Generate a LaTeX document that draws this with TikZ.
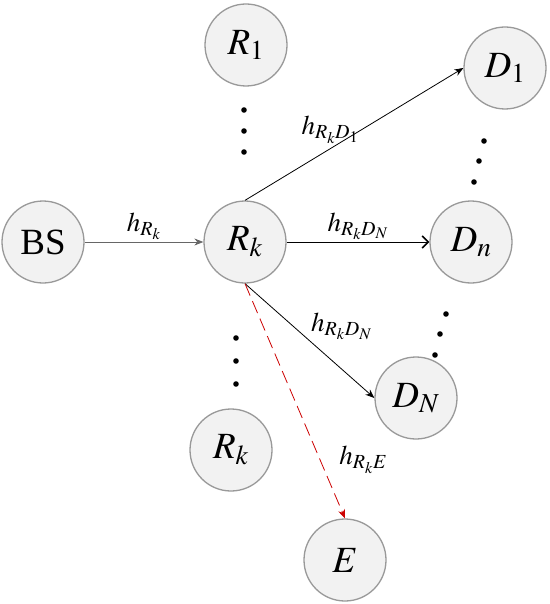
\documentclass[tikz,border=0pt]{standalone}
\usepackage{mathptmx}
\usepackage{fontspec}
\setmainfont{Liberation Serif}
\usetikzlibrary{arrows.meta,positioning}

\begin{document}
\begin{tikzpicture}[x=1pt,y=-1pt,
        station/.style={
            circle, draw = black!40, fill = black!5, line width = 1.3pt,
            minimum size = 82pt, inner sep = 0pt, font = \fontsize{37}{44}\selectfont
        },
        link/.style={
            line width = 0.8pt, -{Stealth[length=9pt,width=7pt]}
        },
        chan/.style={
            font = \fontsize{27}{32}\selectfont, inner sep = 1pt
        },
    ]
    \useasboundingbox (0,0) rectangle (549,604);

    \node (BS) [station] at (43,242) {BS};
    \node (Rk) [station] at (245,242) {$R_k$};
    \node (R1) [station] at (246,45) {$R_1$};
    \node (Rkb) [station] at (231,450) {$R_k$};
    \node (D1) [station] at (505,68) {$D_1$};
    \node (Dn) [station] at (471,242) {$D_n$};
    \node (DN) [station] at (416,398) {$D_N$};
    \node (E) [station] at (345,560) {$E$};

    \draw[link, draw=black!60] (BS.east) -- node[chan,above=1pt] {$h_{R_k}$} (Rk.west);
    \draw[link] (Rk.north) -- node[chan,pos=0.39,above=4pt] {$h_{R_kD_1}$} (D1.west);
    \draw[line width=0.8pt, -{Straight Barb[length=6pt,width=12pt,line width=1.6pt]}] (Rk.east) -- node[chan,above=1pt] {$h_{R_kD_N}$} (Dn.west);
    \draw[link] (Rk.south) -- node[chan,pos=0.47,above right=-4pt and 4pt] {$h_{R_kD_N}$} (DN.west);
    \draw[link, draw=red!80!black, dash pattern=on 13pt off 6pt] (Rk.south) -- node[chan,pos=0.75,right=18pt] {$h_{R_kE}$} (E.north);

    % dots
    \foreach \x/\y in {244/110, 244/131, 244/152, 484/141, 479/161, 474/182,
                       446/314, 440/334, 435/355, 236/338, 236/361, 236/384}
        \fill (\x,\y) circle (2.8pt);

\end{tikzpicture}
\end{document}
